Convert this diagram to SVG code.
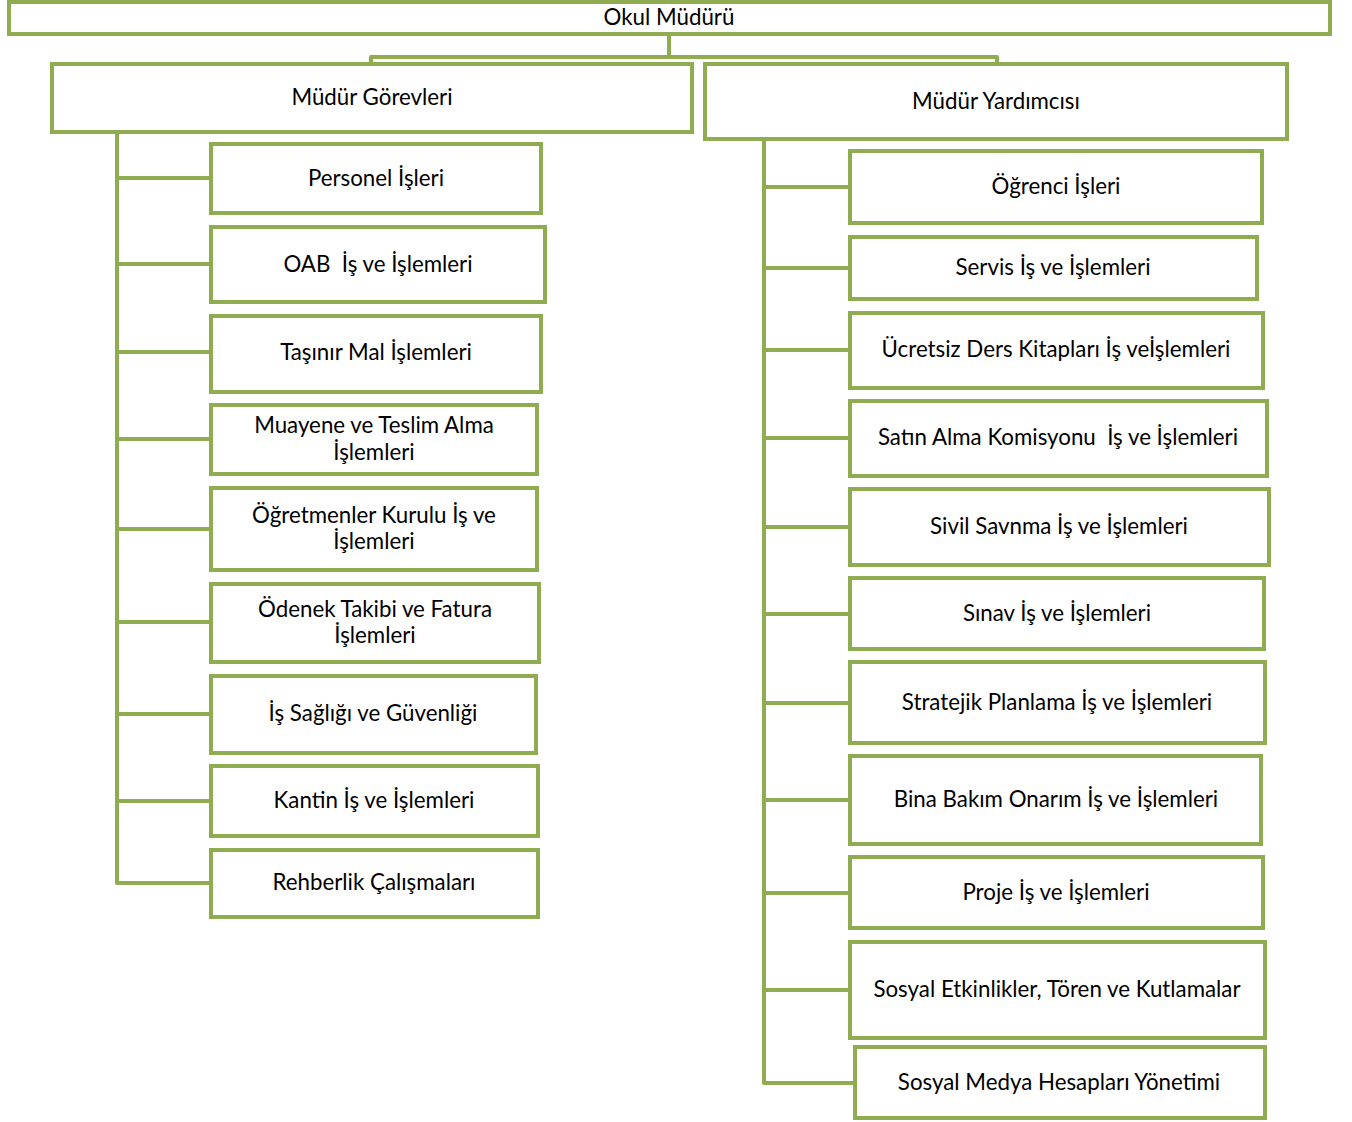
<svg xmlns="http://www.w3.org/2000/svg" width="1352" height="1122" viewBox="0 0 1352 1122">
<style>
.box{fill:#fff;stroke:#8fad50;stroke-width:4}
.ln{fill:none;stroke:#8fad50;stroke-width:4;stroke-linejoin:round}
text{font-family:Lato,"Open Sans",sans-serif;font-size:22.3px;fill:#000;text-anchor:middle;dominant-baseline:central}
</style>
<rect width="1352" height="1122" fill="#fff"/>
<g id="connectors">
<path class="ln" d="M669 34V57M371 63V57H997V63" stroke="#839f4b"/>
<path class="ln" d="M117 132V883H211M117 178H211M117 264H211M117 352H211M117 439H211M117 529H211M117 622H211M117 714H211M117 801H211"/>
<path class="ln" d="M764 139V1083H855M764 187H850M764 268H850M764 350H850M764 438H850M764 527H850M764 614H850M764 703H850M764 800H850M764 893H850M764 990H850"/>
</g>
<g id="okul"><rect class="box" x="9" y="2" width="1321" height="32"/><text x="669" y="16">Okul Müdürü</text></g>
<g id="mudur-gorevleri"><rect class="box" x="52" y="64" width="640" height="68"/><text x="372" y="96">Müdür Görevleri</text></g>
<g id="mudur-yardimcisi"><rect class="box" x="705" y="64" width="582" height="75"/><text x="996" y="100">Müdür Yardımcısı</text></g>

<g id="l1"><rect class="box" x="211" y="144" width="330" height="69"/><text x="376" y="177">Personel İşleri</text></g>
<g id="l2"><rect class="box" x="211" y="227" width="334" height="75"/><text x="378" y="263" xml:space="preserve">OAB  İş ve İşlemleri</text></g>
<g id="l3"><rect class="box" x="211" y="316" width="330" height="76"/><text x="376" y="351">Taşınır Mal İşlemleri</text></g>
<g id="l4"><rect class="box" x="211" y="405" width="326" height="69"/><text x="374" y="424">Muayene ve Teslim Alma</text><text x="374" y="451">İşlemleri</text></g>
<g id="l5"><rect class="box" x="211" y="488" width="326" height="82"/><text x="374" y="514">Öğretmenler Kurulu İş ve</text><text x="374" y="540">İşlemleri</text></g>
<g id="l6"><rect class="box" x="211" y="584" width="328" height="78"/><text x="375" y="608">Ödenek Takibi ve Fatura</text><text x="375" y="634">İşlemleri</text></g>
<g id="l7"><rect class="box" x="211" y="676" width="325" height="77"/><text x="373" y="712">İş Sağlığı ve Güvenliği</text></g>
<g id="l8"><rect class="box" x="211" y="766" width="327" height="70"/><text x="374" y="799">Kantin İş ve İşlemleri</text></g>
<g id="l9"><rect class="box" x="211" y="850" width="327" height="67"/><text x="374" y="881">Rehberlik Çalışmaları</text></g>

<g id="r1"><rect class="box" x="850" y="151" width="412" height="72"/><text x="1056" y="185">Öğrenci İşleri</text></g>
<g id="r2"><rect class="box" x="850" y="237" width="407" height="62"/><text x="1053" y="266">Servis İş ve İşlemleri</text></g>
<g id="r3"><rect class="box" x="850" y="313" width="413" height="75"/><text x="1056" y="348">Ücretsiz Ders Kitapları İş veİşlemleri</text></g>
<g id="r4"><rect class="box" x="850" y="401" width="417" height="75"/><text x="1058" y="436" xml:space="preserve">Satın Alma Komisyonu  İş ve İşlemleri</text></g>
<g id="r5"><rect class="box" x="850" y="489" width="419" height="76"/><text x="1059" y="525">Sivil Savnma İş ve İşlemleri</text></g>
<g id="r6"><rect class="box" x="850" y="578" width="414" height="71"/><text x="1057" y="612">Sınav İş ve İşlemleri</text></g>
<g id="r7"><rect class="box" x="850" y="662" width="415" height="81"/><text x="1057" y="701">Stratejik Planlama İş ve İşlemleri</text></g>
<g id="r8"><rect class="box" x="850" y="756" width="411" height="88"/><text x="1056" y="798">Bina Bakım Onarım İş ve İşlemleri</text></g>
<g id="r9"><rect class="box" x="850" y="857" width="413" height="71"/><text x="1056" y="891">Proje İş ve İşlemleri</text></g>
<g id="r10"><rect class="box" x="850" y="942" width="415" height="96"/><text x="1057" y="988">Sosyal Etkinlikler, Tören ve Kutlamalar</text></g>
<g id="r11"><rect class="box" x="855" y="1047" width="410" height="71"/><text x="1059" y="1081">Sosyal Medya Hesapları Yönetimi</text></g>
</svg>
